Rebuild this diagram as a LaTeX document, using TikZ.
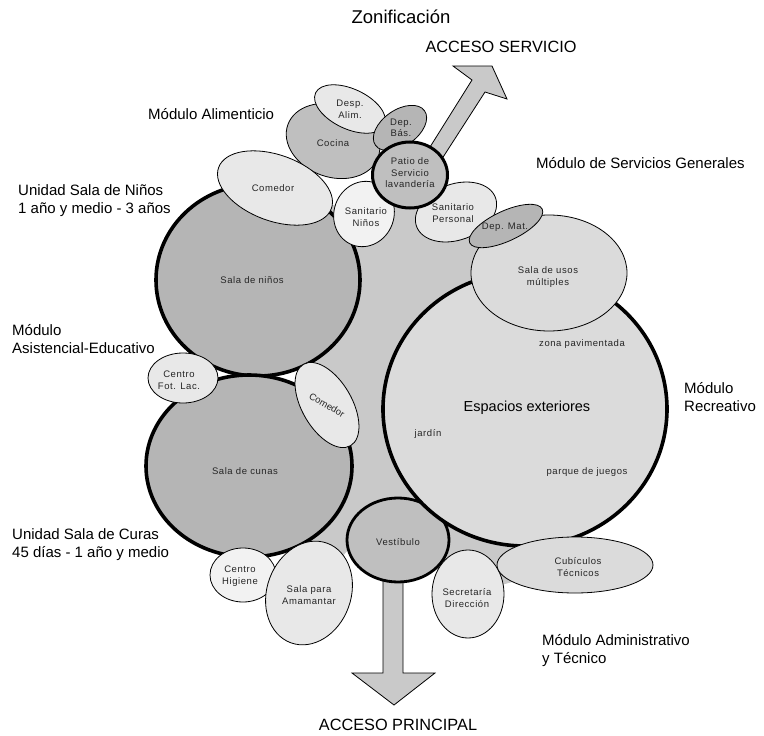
\documentclass[tikz,border=0pt]{standalone}
\usepackage{fontspec}
\setmainfont{Liberation Sans}
\newfontfamily\labfont[LetterSpace=6]{Liberation Sans}
\usetikzlibrary{shapes.geometric,backgrounds}
\definecolor{blobgray}{gray}{0.79}
\definecolor{darkz}{gray}{0.71}
\definecolor{midz}{gray}{0.75}
\definecolor{lightz}{gray}{0.86}
\definecolor{paler}{gray}{0.91}
\definecolor{palest}{gray}{0.95}
\definecolor{arrowgray}{gray}{0.79}
\definecolor{labtext}{gray}{0.15}
\tikzset{
  zone/.style={shape=ellipse, draw=black, line width=0.8pt, inner sep=0pt, outer sep=0pt},
  heavy/.style={zone, line width=3.6pt},
  zl/.style={font=\labfont\fontsize{9.5}{11.5}\selectfont, text=labtext, align=center, inner sep=0pt},
  modl/.style={font=\fontsize{15}{18}\selectfont, align=left, anchor=west, inner sep=0pt},
  blockarrow/.style={draw=black, line width=0.8pt, fill=arrowgray, line join=miter},
}
\begin{document}
\begin{tikzpicture}[x=1pt,y=-1pt]
\useasboundingbox (0,0) rectangle (764,736);

% zones
\node[zone, line width=2.8pt, fill=midz, minimum width=102pt, minimum height=84pt] (vest) at (398,540) {};
\node[heavy, fill=lightz, minimum width=284pt, minimum height=274pt] (esp) at (525,409) {};
\node[zone, fill=lightz, minimum width=156pt, minimum height=116pt] (usos) at (549,273) {};
\node[zone, fill=paler, minimum width=84pt, minimum height=56pt, rotate=20] (sanp) at (456,212) {};
\node[zone, fill=darkz, minimum width=80pt, minimum height=30pt, rotate=25] (depmat) at (506,226) {};
\node[heavy, fill=darkz, minimum width=204pt, minimum height=192pt] (salan) at (258,280) {};
\node[heavy, fill=darkz, minimum width=206pt, minimum height=182pt] (salac) at (249,466) {};
\node[zone, fill=midz, minimum width=96pt, minimum height=72pt, rotate=-20] (cocina) at (333,141) {};
\node[zone, fill=paler, minimum width=76pt, minimum height=40pt, rotate=-25] (despalim) at (350,109) {};
\node[zone, fill=darkz, minimum width=60pt, minimum height=36pt, rotate=35] (depbas) at (400,128) {};
\node[zone, fill=paler, minimum width=120pt, minimum height=66pt, rotate=-20] (comedor) at (275,188) {};
\node[zone, fill=palest, minimum width=60pt, minimum height=66pt, rotate=-20] (sann) at (364,214) {};
\node[zone, line width=3pt, fill=midz, minimum width=75pt, minimum height=66pt] (patio) at (410,175) {};
\node[zone, fill=paler, minimum width=70pt, minimum height=50pt] (cfl) at (183,378) {};
\node[zone, fill=paler, minimum width=94pt, minimum height=50pt, rotate=-60] (comedor2) at (327,405) {};
\node[zone, fill=palest, minimum width=66pt, minimum height=54pt] (chig) at (243,575) {};
\node[zone, fill=paler, minimum width=106pt, minimum height=84pt, rotate=70] (amam) at (309,593) {};
\node[zone, fill=paler, minimum width=72pt, minimum height=88pt] (secr) at (468,594) {};
\node[zone, fill=lightz, minimum width=156pt, minimum height=56pt] (cub) at (575,565) {};

\coordinate (bend) at (350,548);

% background blob and access arrows
\begin{scope}[on background layer]
\fill[blobgray] (salan.center) -- (comedor.center) -- (sann.center) -- (patio.center)
  -- (sanp.center) -- (depmat.center) -- (usos.center) -- (esp.center) -- (cub.center)
  -- (secr.center) -- (vest.center) -- (bend) -- (amam.center) -- (salac.center)
  -- (comedor2.center) -- cycle;
\draw[blockarrow] (425,155) -- (472,80) -- (453,66) -- (492,66) -- (507,99) -- (485,92) -- (438,165) -- cycle;
\draw[blockarrow] (383,560) -- (383,673) -- (352,673) -- (394,705) -- (435,673) -- (403,673) -- (403,560) -- cycle;
\end{scope}

% zone labels
\node[zl] (t-despalim) at (despalim.center) {Desp.\\Alim.};
\node[zl] (t-depbas) at (401,128) {Dep.\\Bás.};
\node[zl] (t-cocina) at (333,143) {Cocina};
\node[zl] (t-patio) at (410,173) {Patio de\\Servicio\\lavandería};
\node[zl] (t-comedor) at (273,188) {Comedor};
\node[zl] (t-sann) at (366,217) {Sanitario\\Niños};
\node[zl] (t-sanp) at (453,213) {Sanitario\\Personal};
\node[zl] (t-depmat) at (505,227) {Dep. Mat.};
\node[zl] (t-usos) at (548,277) {Sala de usos\\múltiples};
\node[zl] (t-salan) at (252,280) {Sala de niños};
\node[zl] (t-zona) at (582,344) {zona pavimentada};
\node[font=\fontsize{14.5}{16}\selectfont, inner sep=0pt] (t-esp) at (527,408) {Espacios exteriores};
\node[zl] (t-jardin) at (428,434) {jardín};
\node[zl] (t-parque) at (587,472) {parque de juegos};
\node[zl] (t-cfl) at (179,380) {Centro\\Fot. Lac.};
\node[font=\fontsize{9.5}{11}\selectfont, text=labtext, inner sep=0pt, rotate=-30] (t-comedor2) at (comedor2.center) {Comedor};
\node[zl] (t-salac) at (245,471) {Sala de cunas};
\node[zl] (t-vest) at (398,542) {Vestíbulo};
\node[zl] (t-chig) at (240,576) {Centro\\Higiene};
\node[zl] (t-amam) at (309,595) {Sala para\\Amamantar};
\node[zl] (t-secr) at (467,598) {Secretaría\\Dirección};
\node[zl] (t-cub) at (578,567) {Cubículos\\Técnicos};

% module labels
\node[modl] (m-alim) at (148,114) {Módulo Alimenticio};
\node[modl] (m-ninos) at (18,201) {Unidad Sala de Niños\\1 año y medio - 3 años};
\node[modl] (m-serv) at (536,163) {Módulo de Servicios Generales};
\node[modl] (m-asis) at (12,339) {Módulo\\Asistencial-Educativo};
\node[modl] (m-recr) at (684,397) {Módulo\\Recreativo};
\node[modl] (m-curas) at (12,545) {Unidad Sala de Curas\\45 días - 1 año y medio};
\node[modl] (m-adm) at (542,651) {Módulo Administrativo\\y Técnico};

% titles
\node[font=\fontsize{18.5}{20}\selectfont, inner sep=0pt] (title) at (401,17) {Zonificación};
\node[font=\fontsize{16.3}{18}\selectfont, inner sep=0pt] (accs) at (501,47) {ACCESO SERVICIO};
\node[font=\fontsize{16.3}{18}\selectfont, inner sep=0pt] (accp) at (398,725) {ACCESO PRINCIPAL};
\end{tikzpicture}
\end{document}
